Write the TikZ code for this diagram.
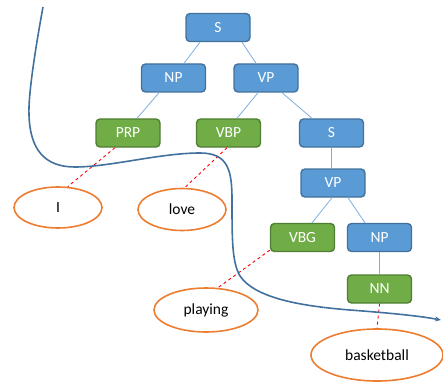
\documentclass[tikz,border=0pt]{standalone}
\usepackage{fontspec}
\setmainfont{Carlito}
\usetikzlibrary{shapes.geometric,arrows.meta}
\definecolor{bfill}{HTML}{5B9BD5}
\definecolor{bdraw}{HTML}{41719C}
\definecolor{gfill}{HTML}{70AD47}
\definecolor{gdraw}{HTML}{507E32}
\definecolor{oline}{HTML}{ED7D31}
\definecolor{tline}{HTML}{7FAEDD}
\definecolor{curve}{HTML}{41719C}
\tikzset{
  tbox/.style={rectangle, rounded corners=4pt, minimum width=64pt, minimum height=28pt, inner sep=0pt, line width=1.4pt, text=white, font=\fontsize{15.5}{17}\selectfont},
  bluebox/.style={tbox, fill=bfill, draw=bdraw},
  greenbox/.style={tbox, fill=gfill, draw=gdraw},
  word/.style={ellipse, draw=oline, line width=1.6pt, fill=white, inner sep=0pt, text=black, font=\fontsize{15.5}{17}\selectfont},
  tree/.style={tline, line width=0.8pt},
  align/.style={red, dash pattern=on 3pt off 3pt, line width=0.9pt},
  sep/.style={curve, line width=1.6pt, -{Stealth[length=6pt,width=5pt]}}
}
\begin{document}
\begin{tikzpicture}[x=1pt,y=-1pt]
\useasboundingbox (0,0) rectangle (443,382);
% boxes
\node[bluebox] (S) at (218,27.5) {S};
\node[bluebox] (NP) at (173.5,78) {NP};
\node[bluebox] (VP) at (266,78) {VP};
\node[greenbox] (PRP) at (128,133) {PRP};
\node[greenbox] (VBP) at (228.5,133) {VBP};
\node[bluebox] (S2) at (331.5,133) {S};
\node[bluebox] (VP2) at (333,183) {VP};
\node[greenbox] (VBG) at (302.5,237.5) {VBG};
\node[bluebox] (NP2) at (379.5,237.5) {NP};
\node[greenbox] (NN) at (379.5,289) {NN};
% words
\node[word, minimum width=88pt, minimum height=41pt] (I) at (58,207.5) {I};
\node[word, minimum width=88pt, minimum height=42pt] (love) at (182,209.5) {love};
\node[word, minimum width=104pt, minimum height=44pt] (playing) at (206,310) {playing};
\node[word, minimum width=132pt, minimum height=52pt] (basketball) at (377,355) {basketball};
% tree connectors
\draw[tree] ([xshift=-18pt]S.south) -- ([xshift=10.5pt]NP.north);
\draw[tree] ([xshift=24pt]S.south) -- ([xshift=-10pt]VP.north);
\draw[tree] ([xshift=-14.5pt]NP.south) -- ([xshift=9pt]PRP.north);
\draw[tree] ([xshift=-8pt]VP.south) -- ([xshift=8.5pt]VBP.north);
\draw[tree] ([xshift=16pt]VP.south) -- ([xshift=-19.5pt]S2.north);
\draw[tree] (S2.south) -- (S2.south |- VP2.north);
\draw[tree] ([xshift=-1pt]VP2.south) -- ([xshift=9.5pt]VBG.north);
\draw[tree] ([xshift=15pt]VP2.south) -- ([xshift=-14.5pt]NP2.north);
\draw[tree] (NP2.south) -- (NN.north);
% alignment
\draw[align] ([xshift=-13pt]PRP.south) -- (I.65);
\draw[align] ([xshift=-1.5pt]VBP.south) -- (love.83);
\draw[align] ([yshift=2pt]VBG.south west) -- (playing.62);
\draw[align] (NN.south) -- (basketball.north);
% separating curve
\draw[sep] (43,7) .. controls (36,45) and (28,95) .. (29,115)
  .. controls (30,150) and (45,167) .. (75,167)
  .. controls (110,167) and (160,153) .. (200,153)
  .. controls (228,153) and (232,170) .. (232,200)
  .. controls (232,240) and (232,262) .. (240,276)
  .. controls (255,298) and (300,306) .. (350,310)
  .. controls (390,313) and (420,316) .. (441,320);
\end{tikzpicture}
\end{document}
